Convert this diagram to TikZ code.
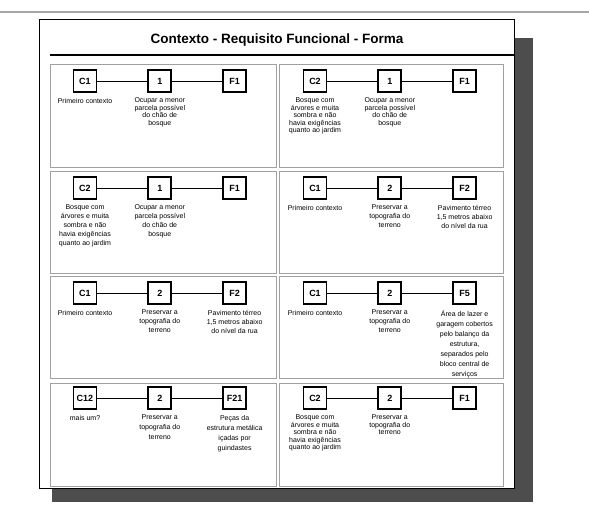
\documentclass[tikz,border=0pt]{standalone}
\usepackage{fontspec}
\setmainfont{Liberation Sans}
\usetikzlibrary{positioning}
\definecolor{figS}{RGB}{77,77,77}
\definecolor{figP}{RGB}{160,160,160}

\begin{document}
\begin{tikzpicture}[x=1pt,y=-1pt,
  cell/.style={draw,line width=1.8pt,minimum width=23pt,minimum height=22pt,inner sep=0pt,font=\bfseries\fontsize{9}{10}\selectfont},
  note/.style={below=5pt of #1,align=center,inner sep=0pt,font=\fontsize{7}{9}\selectfont},
  tight/.style={font=\fontsize{7}{7.5}\selectfont},
  loose/.style={font=\fontsize{7}{10}\selectfont},
  panel/.style={draw=figP,line width=1pt},
  link/.style={line width=0.7pt}]
\useasboundingbox (0,0) rectangle (589,529);
% page, shadow and title
\draw[gray!70,line width=1.5pt] (0,12) -- (589,12);
\fill[figS] (52,38) rectangle (533,502);
\fill[white] (39,19) rectangle (514,488);
\draw[line width=0.8pt] (39,19) rectangle (514,488);
\node[font=\bfseries\fontsize{13.5}{15}\selectfont] (title) at (277,40) {Contexto - Requisito Funcional - Forma};
\draw[line width=2pt] (50,55) -- (514,55);
% row 1, left
\begin{scope}[shift={(50,65)}]
\draw[panel] (0,0) rectangle (226,103);
\node[cell] (ca) at (35,16) {C1};
\node[cell,right=50pt of ca] (ra) {1};
\node[cell,right=50pt of ra] (fa) {F1};
\draw[link] (ca) -- (ra) (ra) -- (fa);
\node[note=ca,tight] (nca) {Primeiro contexto};
\node[note=ra,tight] (nra) {Ocupar a menor\\parcela possível\\do chão de\\bosque};
\end{scope}
% row 1, right
\begin{scope}[shift={(279,65)}]
\draw[panel] (0,0) rectangle (224,103);
\node[cell] (cb) at (36,16) {C2};
\node[cell,right=50pt of cb] (rb) {1};
\node[cell,right=50pt of rb] (fb) {F1};
\draw[link] (cb) -- (rb) (rb) -- (fb);
\node[note=cb,tight] (ncb) {Bosque com\\árvores e muita\\sombra e não\\havia exigências\\quanto ao jardim};
\node[note=rb,tight] (nrb) {Ocupar a menor\\parcela possível\\do chão de\\bosque};
\end{scope}
% row 2, left
\begin{scope}[shift={(50,172)}]
\draw[panel] (0,0) rectangle (226,102);
\node[cell] (cc) at (35,16) {C2};
\node[cell,right=50pt of cc] (rc) {1};
\node[cell,right=50pt of rc] (fc) {F1};
\draw[link] (cc) -- (rc) (rc) -- (fc);
\node[note=cc] (ncc) {Bosque com\\árvores e muita\\sombra e não\\havia exigências\\quanto ao jardim};
\node[note=rc] (nrc) {Ocupar a menor\\parcela possível\\do chão de\\bosque};
\end{scope}
% row 2, right
\begin{scope}[shift={(279,172)}]
\draw[panel] (0,0) rectangle (224,102);
\node[cell] (cd) at (36,16) {C1};
\node[cell,right=50pt of cd] (rd) {2};
\node[cell,right=50pt of rd] (fd) {F2};
\draw[link] (cd) -- (rd) (rd) -- (fd);
\node[note=cd] (ncd) {Primeiro contexto};
\node[note=rd] (nrd) {Preservar a\\topografia do\\terreno};
\node[note=fd] (nfd) {Pavimento térreo\\1,5 metros abaixo\\do nível da rua};
\end{scope}
% row 3, left
\begin{scope}[shift={(50,277)}]
\draw[panel] (0,0) rectangle (226,101);
\node[cell] (ce) at (35,16) {C1};
\node[cell,right=50pt of ce] (re) {2};
\node[cell,right=50pt of re] (fe) {F2};
\draw[link] (ce) -- (re) (re) -- (fe);
\node[note=ce] (nce) {Primeiro contexto};
\node[note=re] (nre) {Preservar a\\topografia do\\terreno};
\node[note=fe] (nfe) {Pavimento térreo\\1,5 metros abaixo\\do nível da rua};
\end{scope}
% row 3, right
\begin{scope}[shift={(279,277)}]
\draw[panel] (0,0) rectangle (224,101);
\node[cell] (cf) at (36,16) {C1};
\node[cell,right=50pt of cf] (rf) {2};
\node[cell,right=50pt of rf] (ff) {F5};
\draw[link] (cf) -- (rf) (rf) -- (ff);
\node[note=cf] (ncf) {Primeiro contexto};
\node[note=rf] (nrf) {Preservar a\\topografia do\\terreno};
\node[note=ff,loose] (nff) {Área de lazer e\\garagem cobertos\\pelo balanço da\\estrutura,\\separados pelo\\bloco central de\\serviços};
\end{scope}
% row 4, left
\begin{scope}[shift={(50,383)}]
\draw[panel] (0,0) rectangle (226,103);
\node[cell] (cg) at (35,15) {C12};
\node[cell,right=50pt of cg] (rg) {2};
\node[cell,right=50pt of rg] (fg) {F21};
\draw[link] (cg) -- (rg) (rg) -- (fg);
\node[note=cg,loose] (ncg) {mais um?};
\node[note=rg,loose] (nrg) {Preservar a\\topografia do\\terreno};
\node[note=fg,loose] (nfg) {Peças da\\estrutura metálica\\içadas por\\guindastes};
\end{scope}
% row 4, right
\begin{scope}[shift={(279,383)}]
\draw[panel] (0,0) rectangle (224,103);
\node[cell] (ch) at (36,15) {C2};
\node[cell,right=50pt of ch] (rh) {2};
\node[cell,right=50pt of rh] (fh) {F1};
\draw[link] (ch) -- (rh) (rh) -- (fh);
\node[note=ch,tight] (nch) {Bosque com\\árvores e muita\\sombra e não\\havia exigências\\quanto ao jardim};
\node[note=rh,tight] (nrh) {Preservar a\\topografia do\\terreno};
\end{scope}
\end{tikzpicture}
\end{document}
